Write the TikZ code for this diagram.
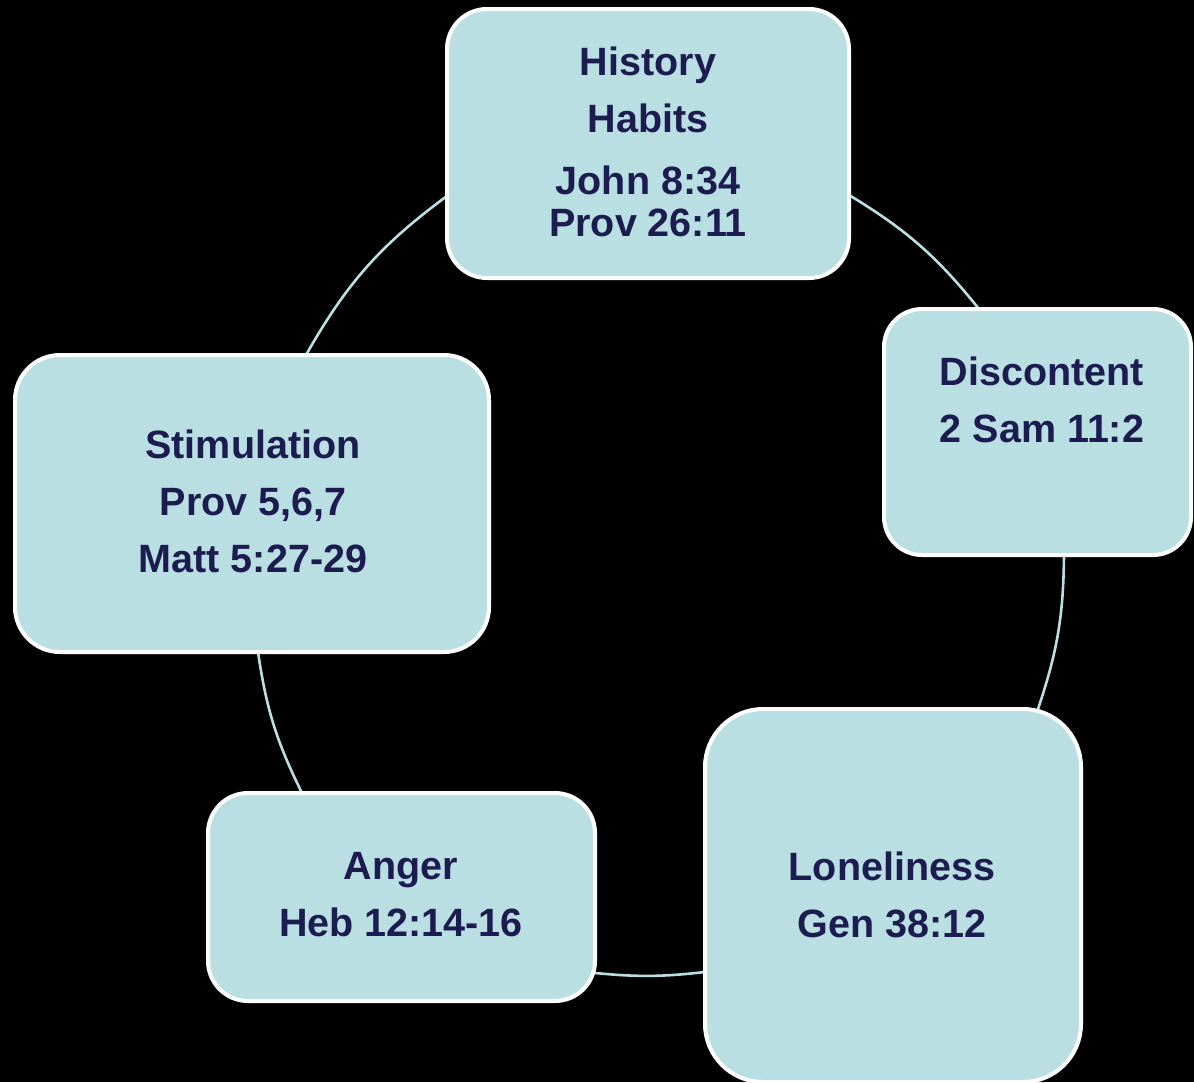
\documentclass[tikz,border=0pt]{standalone}
\usepackage{fontspec}
\setmainfont{Liberation Sans}
\definecolor{boxblue}{HTML}{B9DFE3}
\definecolor{arcblue}{HTML}{B9DFE3}
\definecolor{navy}{HTML}{1C1C50}
\begin{document}
\begin{tikzpicture}[x=1pt,y=-1pt,
  box/.style={draw=white, line width=4pt, fill=boxblue, rectangle, inner sep=0pt, rounded corners=#1},
  label/.style={text=navy, font=\fontsize{39.5}{57}\selectfont\bfseries, align=center, inner sep=0pt},
  arcline/.style={draw=arcblue, line width=2.6pt}]
\fill[black] (0,0) rectangle (1194,1082);
\useasboundingbox (0,0) rectangle (1194,1082);
% connector end points on the box borders
\coordinate (a1) at (849,195);  \coordinate (a2) at (979,309);
\coordinate (b1) at (1064,555); \coordinate (b2) at (1038,709);
\coordinate (c1) at (705,972);  \coordinate (c2) at (595,973);
\coordinate (d1) at (302,793);  \coordinate (d2) at (258,652);
\coordinate (e1) at (306,355);  \coordinate (e2) at (447,196);
\draw[arcline] (a1) to[bend left=10] (a2);
\draw[arcline] (b1) to[bend left=9] (b2);
\draw[arcline] (c1) to[bend left=6] (c2);
\draw[arcline] (d1) to[bend left=9] (d2);
\draw[arcline] (e1) to[bend left=12] (e2);
% boxes
\node[box=40pt, minimum width=402pt, minimum height=269pt] (hist) at (648,143.5) {};
\node[box=38pt, minimum width=307pt, minimum height=246pt] (disc) at (1037.5,432) {};
\node[box=58pt, minimum width=376pt, minimum height=373pt] (lone) at (893,895.5) {};
\node[box=40pt, minimum width=387pt, minimum height=208pt] (anger) at (401.5,897) {};
\node[box=45pt, minimum width=474pt, minimum height=297pt] (stim) at (252,503.5) {};
% texts
\node[label] (histT) at (648,142) {History\\Habits\\[5pt]John 8:34\\[-15pt]Prov 26:11};
\node[label] (discT) at (1042,400) {Discontent\\2 Sam 11:2};
\node[label] (loneT) at (892,894.5) {Loneliness\\Gen 38:12};
\node[label] (angerT) at (401,895) {Anger\\Heb 12:14-16};
\node[label] (stimT) at (253,501.5) {Stimulation\\Prov 5,6,7\\Matt 5:27-29};
\end{tikzpicture}
\end{document}
